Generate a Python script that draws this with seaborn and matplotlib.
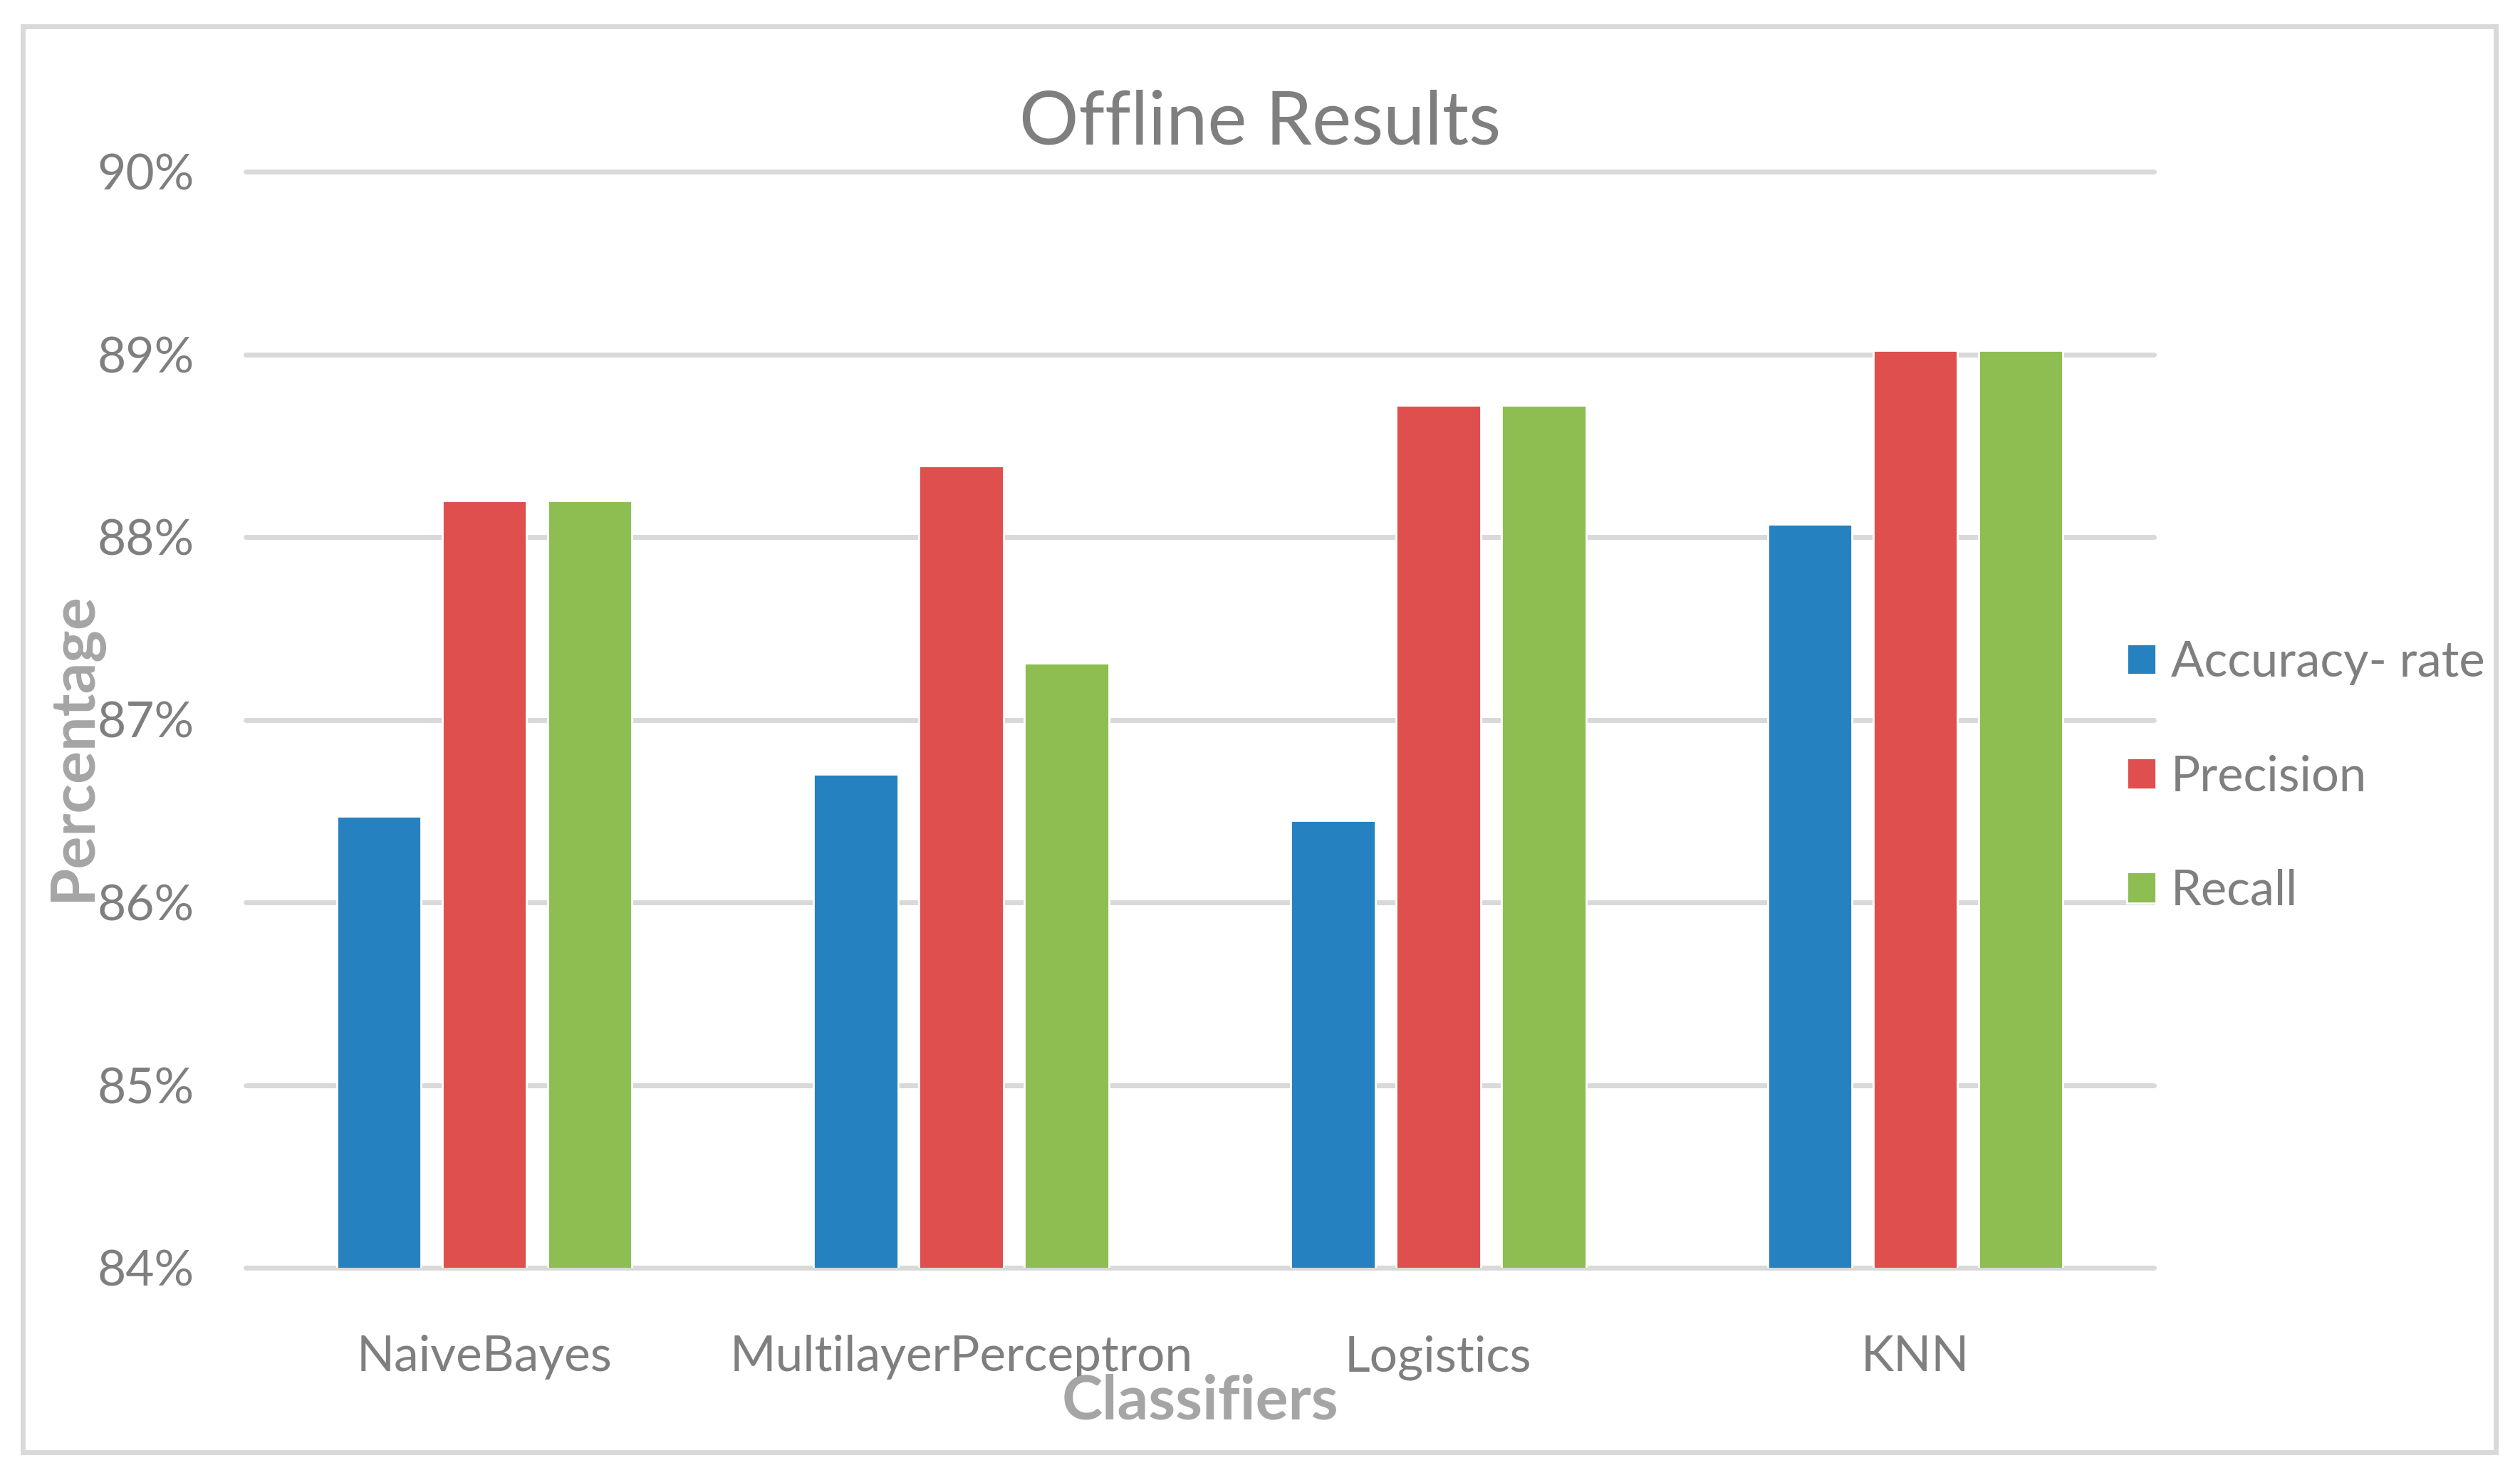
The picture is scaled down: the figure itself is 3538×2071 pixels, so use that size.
import matplotlib
matplotlib.use("Agg")
import matplotlib.pyplot as plt
from matplotlib.patches import Rectangle
import pandas as pd
import seaborn as sns

classifiers = ["NaiveBayes", "MultilayerPerceptron", "Logistics", "KNN"]
metrics = ["Accuracy- rate", "Precision", "Recall"]
accuracy = [86.47, 86.70, 86.45, 88.07]
precision = [88.20, 88.39, 88.72, 89.02]
recall = [88.20, 87.31, 88.72, 89.02]
colors = ["#2581C0", "#DF4F4E", "#8EBD51"]
yticks = [84, 85, 86, 87, 88, 89, 90]

df = pd.DataFrame({
    "classifier": classifiers * 3,
    "metric": [m for m in metrics for _ in classifiers],
    "value": accuracy + precision + recall,
})

sns.set_theme(style="white")
plt.rcParams["font.family"] = ["Lato", "DejaVu Sans"]

W, H = 3538, 2071
fig = plt.figure(figsize=(W / 200, H / 200), dpi=200)
ax = fig.add_axes([345 / W, 1 - 1780 / H, (3024 - 345) / W, (1780 - 241) / H])

sns.barplot(
    data=df, x="classifier", y="value", hue="metric",
    palette=colors, width=0.663, gap=0.2, ax=ax, saturation=1,
)

ax.set_ylim(84, 90)
ax.set_yticks(yticks)
ax.set_yticklabels([f"{t}%" for t in yticks])
ax.tick_params(axis="both", length=0, labelsize=25, labelcolor="#7F7F7F")
ax.tick_params(axis="y", pad=26)
ax.tick_params(axis="x", pad=34)
for s in ax.spines.values():
    s.set_visible(False)
ax.yaxis.grid(True, color="#D9D9D9", linewidth=2.5)
ax.set_axisbelow(True)
for gl in ax.get_ygridlines():
    gl.set_clip_on(False)

ax.set_xlabel("Classifiers", fontsize=31, fontweight="bold", color="#A5A5A5", va="center")
ax.xaxis.set_label_coords(0.5, -0.122)
ax.set_ylabel("Percentage", fontsize=31, fontweight="bold", color="#A5A5A5", va="center")
ax.yaxis.set_label_coords(-0.09, 0.475)

fig.text(0.5, 1 - 173 / H, "Offline Results", ha="center", va="center",
         fontsize=37.5, color="#7F7F7F")

leg = ax.legend(
    loc="center left", bbox_to_anchor=(0.9858, 0.448), frameon=False,
    fontsize=24.7, handlelength=0.6, handleheight=0.6, handletextpad=0.3,
    labelspacing=1.42, borderpad=0, borderaxespad=0,
)
for t in leg.get_texts():
    t.set_color("#7F7F7F")

fig.patches.append(Rectangle((32 / W, 1 - 2039 / H), (3504 - 32) / W, (2039 - 37) / H,
                             transform=fig.transFigure, fill=False,
                             edgecolor="#D9D9D9", linewidth=2.5))

fig.savefig("out.png", dpi=200, facecolor="white")
